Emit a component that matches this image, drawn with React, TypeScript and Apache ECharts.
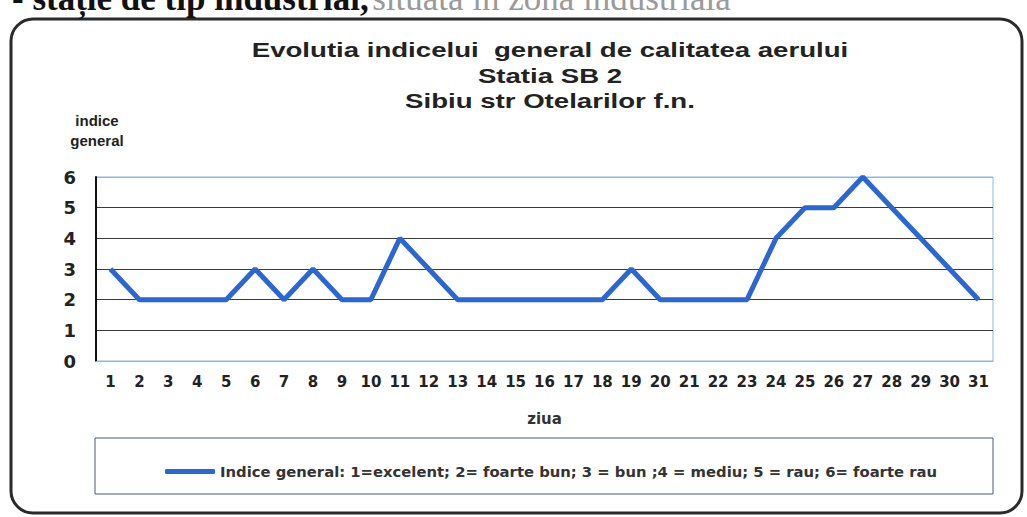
import React, { useEffect, useRef } from "react";
import * as echarts from "echarts";

const days = ["1","2","3","4","5","6","7","8","9","10","11","12","13","14","15","16","17","18","19","20","21","22","23","24","25","26","27","28","29","30","31"];
const indiceGeneral = [3,2,2,2,2,3,2,3,2,2,4,3,2,2,2,2,2,2,3,2,2,2,2,4,5,5,6,5,4,3,2];
const titleLines = ["Evolutia indicelui  general de calitatea aerului", "Statia SB 2", "Sibiu str Otelarilor f.n."];
const seriesName = "Indice general: 1=excelent; 2= foarte bun; 3 = bun ;4 = mediu; 5 = rau; 6= foarte rau";
const yAxisName = "indice\ngeneral";
const xAxisName = "ziua";
const topTextDark = "- stație de tip industrial,";
const topTextFaint = "situată în zona industrială";

export default function App() {
  const ref = useRef<HTMLDivElement>(null);
  useEffect(() => {
    if (!ref.current) return;
    const chart = echarts.init(ref.current, null, { renderer: "svg" });
    const font = "'Liberation Sans', Arial, sans-serif";
    const wide = "'DejaVu Sans', sans-serif";
    const serif = "'Liberation Serif', serif";
    const titleY = [50, 76, 101];
    chart.setOption({
      animation: false,
      backgroundColor: "#ffffff",
      grid: { left: 96, right: 34, top: 177, bottom: 156, show: true, borderColor: "#8ab8e6", borderWidth: 1 },
      legend: {
        left: 160,
        top: 459,
        itemWidth: 50,
        itemHeight: 5,
        itemGap: 8,
        icon: "roundRect",
        textStyle: { fontFamily: wide, fontWeight: "bold", fontSize: 14.8, color: "#333" },
        data: [seriesName],
      },
      xAxis: {
        type: "category",
        data: days,
        boundaryGap: true,
        name: xAxisName,
        nameLocation: "middle",
        nameGap: 50,
        nameTextStyle: { fontFamily: wide, fontWeight: "bold", fontSize: 15, color: "#333" },
        axisTick: { show: false },
        axisLine: { show: true, lineStyle: { color: "#8ab8e6", width: 1 } },
        axisLabel: { fontFamily: wide, fontWeight: "bold", fontSize: 15, color: "#222", margin: 13 },
      },
      yAxis: {
        type: "value",
        min: 0,
        max: 6,
        interval: 1,
        axisLine: { show: true, lineStyle: { color: "#111", width: 2 } },
        axisTick: { show: false },
        axisLabel: { fontFamily: wide, fontWeight: "bold", fontSize: 18, color: "#222", margin: 20 },
        splitLine: { show: true, lineStyle: { color: ["#8ab8e6", "#3a3a3a", "#3a3a3a", "#3a3a3a", "#3a3a3a", "#3a3a3a", "#8ab8e6"], width: 1 } },
      },
      series: [
        {
          name: seriesName,
          type: "line",
          data: indiceGeneral,
          showSymbol: false,
          symbol: "none",
          lineStyle: { color: "#2b66d1", width: 5 },
          itemStyle: { color: "#2b66d1" },
        },
      ],
      graphic: [
        {
          type: "rect",
          shape: { x: 11, y: 19, width: 1011, height: 494, r: 22 },
          style: { fill: "none", stroke: "#2a2a2a", lineWidth: 3 },
          z: 0,
        },
        {
          type: "rect",
          shape: { x: 95, y: 438, width: 898, height: 56 },
          style: { fill: "none", stroke: "#4a5a70", lineWidth: 1 },
        },
        ...titleLines.map((t, i) => ({
          type: "text",
          x: 550,
          y: titleY[i],
          scaleX: 1.38,
          style: { text: t, fontFamily: font, fontWeight: "bold", fontSize: 20, fill: "#222", align: "center", verticalAlign: "middle" },
        })),
        {
          type: "text",
          x: 97,
          y: 110,
          style: { text: yAxisName, fontFamily: font, fontWeight: "bold", fontSize: 15, fill: "#222", align: "center", lineHeight: 20 },
        },
        {
          type: "text",
          x: 12,
          y: -19,
          style: {
            text: "{a|" + topTextDark + "} {b|" + topTextFaint + "}",
            rich: {
              a: { fontFamily: serif, fontWeight: "bold", fontSize: 35, fill: "#111" },
              b: { fontFamily: serif, fontSize: 35, fill: "#9a9a9a" },
            },
          },
        },
      ],
    });
    return () => chart.dispose();
  }, []);
  return <div ref={ref} style={{ position: "absolute", left: 0, top: 0, width: 1027, height: 517 }} />;
}
